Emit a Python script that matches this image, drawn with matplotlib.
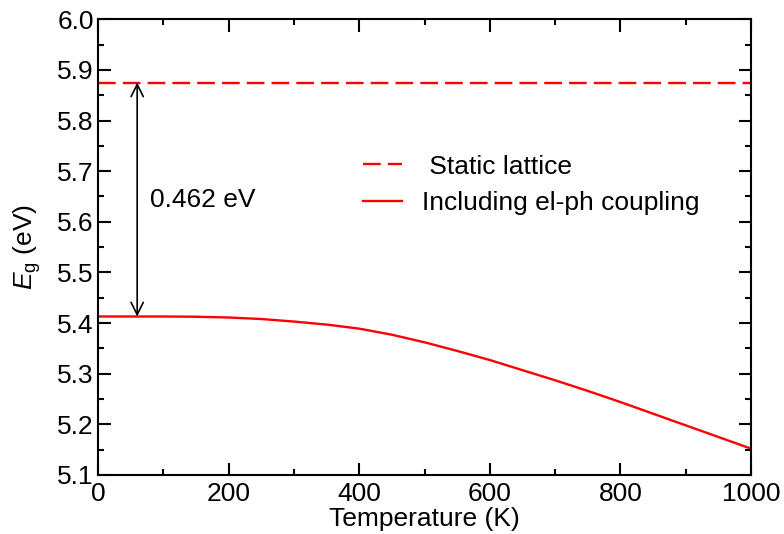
import numpy as np
import matplotlib
matplotlib.use("Agg")
import matplotlib.pyplot as plt
from matplotlib.ticker import MultipleLocator

plt.rcParams['font.family'] = ['Liberation Sans', 'DejaVu Sans']
plt.rcParams['mathtext.fontset'] = 'custom'
plt.rcParams['mathtext.rm'] = 'Liberation Sans'
plt.rcParams['mathtext.it'] = 'Liberation Sans:italic'

# band gap vs temperature
temp = [0, 50, 100, 150, 200, 250, 300, 350, 400, 450, 500,
        550, 600, 650, 700, 750, 800, 850, 900, 950, 1000]
eg_elph = [5.413, 5.413, 5.413, 5.4125, 5.411, 5.408, 5.403, 5.397, 5.389, 5.377, 5.362,
           5.345, 5.327, 5.307, 5.287, 5.266, 5.244, 5.221, 5.198, 5.175, 5.152]
eg_static = 5.875
gap_label = "0.462 eV"
arrow_T = 60

fs = 19

fig = plt.figure(figsize=(7.84, 5.34), dpi=100)
ax = fig.add_axes([0.125, 0.1105, 0.833, 0.8535])

ax.plot([0, 1000], [eg_static, eg_static], color='red', lw=1.7, ls=(0, (7.5, 3.0)),
        label=' Static lattice')
ax.plot(temp, eg_elph, color='red', lw=1.7, label='Including el-ph coupling')

ax.annotate('', xy=(arrow_T, eg_static), xytext=(arrow_T, eg_elph[0]),
            arrowprops=dict(arrowstyle='<->', color='black', lw=1.2,
                            mutation_scale=22, shrinkA=0, shrinkB=0))
ax.text(80, 5.643, gap_label, fontsize=fs, va='center', ha='left')

ax.set_xlim(0, 1000)
ax.set_ylim(5.1, 6.0)
ax.xaxis.set_major_locator(MultipleLocator(200))
ax.xaxis.set_minor_locator(MultipleLocator(100))
ax.yaxis.set_major_locator(MultipleLocator(0.1))
ax.yaxis.set_minor_locator(MultipleLocator(0.05))
ax.yaxis.set_major_formatter(matplotlib.ticker.FormatStrFormatter('%.1f'))
ax.tick_params(which='both', direction='in', top=True, right=True,
               labelsize=fs, width=1.5)
ax.tick_params(which='major', length=9, pad=3)
ax.tick_params(axis='x', which='major', pad=5)
ax.tick_params(which='minor', length=4.5)
for s in ax.spines.values():
    s.set_linewidth(1.5)

ax.set_xlabel('Temperature (K)', fontsize=fs, labelpad=1)
ax.set_ylabel(r'$E_{\rm g}$ (eV)', fontsize=fs, labelpad=10)

ax.legend(loc='upper left', bbox_to_anchor=(0.37, 0.755), frameon=False,
          fontsize=fs, handlelength=1.48, handletextpad=0.75, labelspacing=0.46)

fig.savefig('out.png', dpi=100)
